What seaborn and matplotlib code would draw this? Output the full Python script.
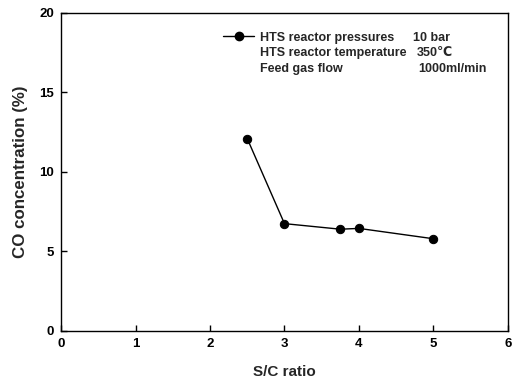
import matplotlib
matplotlib.use("Agg")
import matplotlib.pyplot as plt
import seaborn as sns
import pandas as pd
from matplotlib.lines import Line2D

sc_ratio = [2.5, 3.0, 3.75, 4.0, 5.0]
co_conc = [12.1, 6.75, 6.4, 6.45, 5.8]
legend_labels = ["HTS reactor pressures", "HTS reactor temperature", "Feed gas flow"]
legend_values = ["10 bar", "350\u2103", "1000ml/min"]
xticks = [0, 1, 2, 3, 4, 5, 6]
yticks = [0, 5, 10, 15, 20]

sns.set_theme(style="ticks")
plt.rcParams['font.family'] = ['Liberation Sans', 'DejaVu Sans']
plt.rcParams['font.weight'] = 'bold'

df = pd.DataFrame({"S/C ratio": sc_ratio, "CO": co_conc})

fig = plt.figure(figsize=(5.13, 3.80), dpi=100)
ax = fig.add_axes([0.119, 0.129, 0.871, 0.837])
sns.lineplot(data=df, x="S/C ratio", y="CO", ax=ax, color="black", lw=1.0,
             marker="o", markersize=6, markeredgecolor="black", markerfacecolor="black")

ax.set_xlim(0, 6)
ax.set_ylim(0, 20)
ax.set_xticks(xticks)
ax.set_yticks(yticks)
ax.tick_params(direction="in", length=4, width=1, labelsize=9.5, colors="black", pad=5)
for lab in ax.get_xticklabels() + ax.get_yticklabels():
    lab.set_fontweight("bold")
for s in ax.spines.values():
    s.set_visible(True)
    s.set_color("black")
    s.set_linewidth(1.0)
ax.set_xlabel("S/C ratio", fontsize=11, fontweight="bold", labelpad=11)
ax.set_ylabel("CO concentration (%)", fontsize=12.2, fontweight="bold", labelpad=8)

handles = [Line2D([], [], color="black", lw=1.0, marker="o", markersize=6),
           Line2D([], [], color="none"), Line2D([], [], color="none")]
leg = ax.legend(handles, legend_labels, loc="upper left", bbox_to_anchor=(0.34, 0.972),
                frameon=False, prop={"size": 9, "weight": "bold"},
                handlelength=2.5, handletextpad=0.45, labelspacing=0.28, borderpad=0.3)

fig.canvas.draw()
inv = ax.transAxes.inverted()
vx = [0.787, 0.796, 0.799]
for t, val, x in zip(leg.get_texts(), legend_values, vx):
    bb = t.get_window_extent()
    ycen = inv.transform(((bb.x0 + bb.x1) / 2, (bb.y0 + bb.y1) / 2))[1]
    ax.text(x, ycen, val, transform=ax.transAxes, fontsize=9, fontweight="bold",
            va="center", ha="left")

fig.savefig("out.png", dpi=100)
